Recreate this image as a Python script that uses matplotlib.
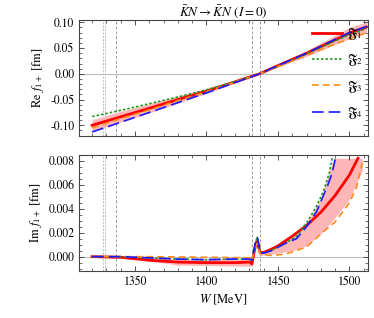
import matplotlib
matplotlib.use("Agg")
import matplotlib.pyplot as plt
from matplotlib.ticker import MultipleLocator

plt.rcParams['font.family'] = ['STIXGeneral', 'DejaVu Serif']
plt.rcParams['mathtext.fontset'] = 'stix'
plt.rcParams['font.size'] = 8.5

# thresholds (MeV)
thr_dotted = [1327.6, 1328.9]
thr_dashed = [1337.0, 1431.9, 1437.2]

# Re f_1+ panel
W_re = [1320, 1340, 1360, 1380, 1400, 1420, 1437, 1450, 1470, 1490, 1500, 1512]
re_F1 = [-0.100, -0.0835, -0.067, -0.050, -0.0335, -0.0155, 0.0, 0.016, 0.040, 0.066, 0.079, 0.091]
re_F2 = [-0.083, -0.071, -0.058, -0.045, -0.031, -0.015, 0.0, 0.015, 0.039, 0.064, 0.076, 0.088]
re_F3 = [-0.105, -0.087, -0.070, -0.052, -0.035, -0.016, 0.0, 0.014, 0.036, 0.058, 0.068, 0.080]
re_F4 = [-0.113, -0.094, -0.075, -0.056, -0.037, -0.017, 0.0, 0.016, 0.040, 0.067, 0.080, 0.092]
re_lo = [-0.112, -0.094, -0.076, -0.057, -0.038, -0.018, 0.0, 0.013, 0.034, 0.057, 0.068, 0.080]
re_hi = [-0.089, -0.073, -0.058, -0.043, -0.029, -0.013, 0.0, 0.019, 0.045, 0.075, 0.090, 0.101]

# Im f_1+ panel
W_im1 = [1320, 1340, 1360, 1380, 1400, 1420, 1430, 1431.8, 1433, 1434.5, 1435.5, 1436.5, 1437.5,
         1440, 1445, 1450, 1460, 1470, 1480, 1490, 1500, 1506]
im_F1 = [0.0, -0.00005, -0.0003, -0.00045, -0.0005, -0.0005, -0.00045, -0.0006, 0.0002, 0.0011,
         0.0013, 0.0008, 0.00035, 0.00035, 0.0006, 0.0009, 0.0017, 0.0026, 0.0037, 0.0051, 0.0068, 0.0082]

W_im2 = [1320, 1340, 1360, 1380, 1400, 1420, 1430, 1431.8, 1433, 1434.5, 1435.5, 1436.5, 1437.5,
         1440, 1445, 1455, 1463, 1470, 1477, 1482, 1486, 1488]
im_F2 = [0.0, 0.0, -0.0001, -0.0002, -0.00025, -0.0002, -0.0002, -0.0003, 0.0004, 0.0013,
         0.0016, 0.0011, 0.00035, 0.0003, 0.0005, 0.0011, 0.0017, 0.0028, 0.0042, 0.0055, 0.0070, 0.0082]

W_im3 = [1320, 1360, 1400, 1430, 1431.8, 1433, 1434.5, 1435.5, 1436.5, 1437.5, 1445, 1455,
         1470, 1482, 1490, 1500, 1505, 1509]
im_F3 = [0.0, 0.0, -0.00005, -0.0001, -0.0003, 0.0003, 0.0009, 0.0011, 0.0007, 0.0002, 0.0001,
         0.0002, 0.0008, 0.0021, 0.0029, 0.0045, 0.0058, 0.0078]

W_im4 = [1320, 1340, 1360, 1380, 1400, 1420, 1430, 1431.8, 1433, 1434.5, 1435.5, 1436.5, 1437.5,
         1440, 1445, 1455, 1463, 1470, 1477, 1485, 1488, 1490]
im_F4 = [0.0, 0.0, -0.0001, -0.0002, -0.00025, -0.0002, -0.0002, -0.0003, 0.0004, 0.0013,
         0.0016, 0.0011, 0.00035, 0.0003, 0.00047, 0.0011, 0.0015, 0.0025, 0.00375, 0.0060, 0.0070, 0.0081]

W_band = [1320, 1350, 1380, 1430, 1432, 1435, 1437.5, 1445, 1460, 1470, 1480, 1489, 1500, 1509]
im_hi = [0.00005, 0.0, -0.0002, -0.0002, -0.0002, 0.0016, 0.0004, 0.0006, 0.0016, 0.0028,
         0.0048, 0.0082, 0.0082, 0.0082]
im_lo = [-0.00005, -0.0002, -0.0007, -0.0008, -0.0008, 0.0010, 0.0001, 0.0002, 0.0005, 0.0009,
         0.0019, 0.0031, 0.0048, 0.0072]

red = '#ff0000'
green = '#1f9a1f'
orange = '#ff8c1a'
blue = '#1a1aff'
pink = '#ffb6b6'
labels = [r'$\mathfrak{F}_1$', r'$\mathfrak{F}_2$', r'$\mathfrak{F}_3$', r'$\mathfrak{F}_4$']

fig = plt.figure(figsize=(3.74, 3.18), dpi=100)
ax1 = fig.add_axes([0.212, 0.572, 0.772, 0.365])
ax2 = fig.add_axes([0.212, 0.148, 0.772, 0.365])


def style_axes(ax):
    ax.set_xlim(1311, 1513)
    ax.axhline(0, color='#bbbbbb', lw=0.8, zorder=0)
    for w in thr_dotted:
        ax.axvline(w, color='#bbbbbb', lw=0.7, ls=(0, (2, 1.5)), zorder=0)
    for w in thr_dashed:
        ax.axvline(w, color='#999999', lw=0.7, ls=(0, (3, 2)), zorder=0)
    ax.xaxis.set_major_locator(MultipleLocator(50))
    ax.xaxis.set_minor_locator(MultipleLocator(10))
    ax.tick_params(which='both', direction='in', top=True, right=True, colors='#333333',
                   labelcolor='black', labelsize=8.5)
    ax.tick_params(which='major', length=3.5, width=0.6)
    ax.tick_params(which='minor', length=2, width=0.5)
    for s in ax.spines.values():
        s.set_color('#444444')
        s.set_linewidth(0.8)


# top panel
style_axes(ax1)
ax1.fill_between(W_re, re_lo, re_hi, color=pink, lw=0, zorder=1)
l1, = ax1.plot(W_re, re_F1, color=red, lw=2.0, zorder=3)
l2, = ax1.plot(W_re, re_F2, color=green, lw=1.2, ls=(0, (1.5, 1.2)), zorder=4)
l3, = ax1.plot(W_re, re_F3, color=orange, lw=1.2, ls=(0, (4, 2.5)), zorder=4)
l4, = ax1.plot(W_re, re_F4, color=blue, lw=1.2, ls=(0, (7, 3)), zorder=5)
ax1.set_ylim(-0.121, 0.1045)
ax1.yaxis.set_major_locator(MultipleLocator(0.05))
ax1.yaxis.set_minor_locator(MultipleLocator(0.01))
ax1.yaxis.set_major_formatter(matplotlib.ticker.FormatStrFormatter('%.2f'))
ax1.set_xticklabels([])
ax1.set_ylabel(r'Re $f_{1+}$ [fm]', fontsize=9, labelpad=3)
ax1.set_title(r'$\bar{K}N \rightarrow \bar{K}N\ (I=0)$', fontsize=9.5, pad=3)
ax1.legend([l1, l2, l3, l4], labels, loc='upper right', frameon=False, fontsize=9,
           handlelength=2.4, labelspacing=0.82, borderaxespad=0.0, handletextpad=0.4,
           bbox_to_anchor=(1.0, 0.99))

# bottom panel
style_axes(ax2)
ax2.fill_between(W_band, im_lo, im_hi, color=pink, lw=0, zorder=1)
ax2.plot(W_im1, im_F1, color=red, lw=2.0, zorder=3)
ax2.plot(W_im2, im_F2, color=green, lw=1.2, ls=(0, (1.5, 1.2)), zorder=4)
ax2.plot(W_im3, im_F3, color=orange, lw=1.2, ls=(0, (4, 2.5)), zorder=4)
ax2.plot(W_im4, im_F4, color=blue, lw=1.2, ls=(0, (7, 3)), zorder=5)
ax2.set_ylim(-0.00119, 0.00848)
ax2.yaxis.set_major_locator(MultipleLocator(0.002))
ax2.yaxis.set_minor_locator(MultipleLocator(0.0005))
ax2.yaxis.set_major_formatter(matplotlib.ticker.FormatStrFormatter('%.3f'))
ax2.set_ylabel(r'Im $f_{1+}$ [fm]', fontsize=9, labelpad=3)
ax2.set_xlabel(r'$W$ [MeV]', fontsize=9, labelpad=4)

fig.savefig('out.png', dpi=100)
